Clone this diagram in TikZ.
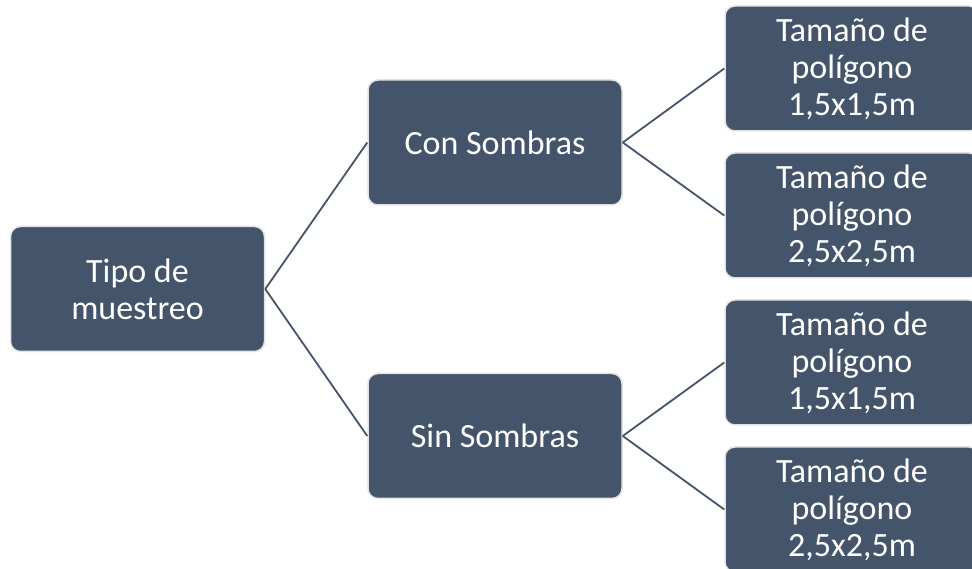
\documentclass[tikz,border=0pt]{standalone}
\usepackage{fontspec}
\setmainfont{Carlito}
\definecolor{boxblue}{HTML}{44546A}
\definecolor{boxrim}{HTML}{E3E3E3}
\tikzset{
  treebox/.style={rectangle, rounded corners=10pt, fill=boxblue, draw=boxrim,
    line width=1.5pt, minimum width=254pt, minimum height=125pt,
    text=white, align=center, font=\fontsize{34}{37}\selectfont},
  branch/.style={draw=boxblue, line width=1.8pt}
}
\begin{document}
\begin{tikzpicture}[x=1pt,y=1pt]
				\useasboundingbox (0,0) rectangle (972,569);
				\clip (0,0) rectangle (972,569);
				% Root
				\node[treebox] (tipo) at (137.5,280) {Tipo de\\muestreo};
				% Second level
				\node[treebox] (con) at (495,426.5) {Con Sombras};
				\node[treebox] (sin) at (495,133) {Sin Sombras};
				% Leaves
				\node[treebox] (conA) at (852,500.5) {Tamaño de\\polígono\\1,5x1,5m};
				\node[treebox] (conB) at (852,353.5) {Tamaño de\\polígono\\2,5x2,5m};
				\node[treebox] (sinA) at (852,206.5) {Tamaño de\\polígono\\1,5x1,5m};
				\node[treebox] (sinB) at (852,59.5) {Tamaño de\\polígono\\2,5x2,5m};
				% Connectors
				\draw[branch] (tipo.east) -- (con.west);
				\draw[branch] (tipo.east) -- (sin.west);
				\draw[branch] (con.east) -- (conA.west);
				\draw[branch] (con.east) -- (conB.west);
				\draw[branch] (sin.east) -- (sinA.west);
				\draw[branch] (sin.east) -- (sinB.west);
			\end{tikzpicture}
\end{document}
